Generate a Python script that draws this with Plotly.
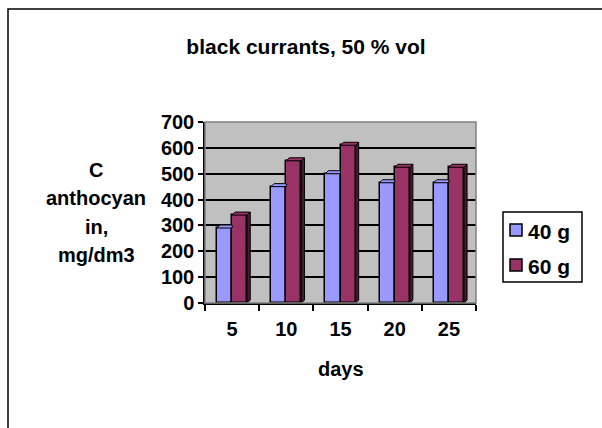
import plotly.graph_objects as go

# ---- data ----
days = ["5", "10", "15", "20", "25"]
series_names = ["40 g", "60 g"]
vals_40 = [290, 450, 500, 465, 465]
vals_60 = [340, 550, 610, 525, 525]
y_ticks = [0, 100, 200, 300, 400, 500, 600, 700]

# ---- styling / geometry ----
W, H = 602, 428
L, R, T, B = 205, 126, 122, 125
FONT = "Arial, Liberation Sans, sans-serif"
BLUE, BLUE_SIDE = "#9999FF", "#5C5C99"
RED, RED_SIDE = "#993366", "#4D1933"
colors = [BLUE, RED]
bw = 0.28          # bar width in category units
dx = 0.055         # 3D depth (x units)
dy = 11.6          # 3D depth (y units)

pw, ph = W - L - R, H - T - B
def px_x(p):  # pixel -> paper x
    return (p - L) / pw
def px_y(p):  # pixel -> paper y
    return (H - B - p) / ph

xs = list(range(len(days)))
fig = go.Figure()

# blue top faces (clipped at red front face)
for i, v in zip(xs, vals_40):
    fig.add_trace(go.Scatter(
        x=[i - bw, i - bw + dx, i, i, i - bw], y=[v, v + dy, v + dy, v, v],
        fill="toself", fillcolor=BLUE, mode="lines",
        line=dict(color="black", width=1), showlegend=False, hoverinfo="skip"))

fig.add_trace(go.Bar(x=xs, y=vals_40, name=series_names[0], width=bw, offset=-bw,
                     marker=dict(color=BLUE, line=dict(color="black", width=1.5)),
                     showlegend=False))
fig.add_trace(go.Bar(x=xs, y=vals_60, name=series_names[1], width=bw, offset=0,
                     marker=dict(color=RED, line=dict(color="black", width=1.5)),
                     showlegend=False))

# red top & side faces
for i, v in zip(xs, vals_60):
    fig.add_trace(go.Scatter(
        x=[i, i + dx, i + bw + dx, i + bw, i], y=[v, v + dy, v + dy, v, v],
        fill="toself", fillcolor=RED, mode="lines",
        line=dict(color="black", width=1), showlegend=False, hoverinfo="skip"))
    fig.add_trace(go.Scatter(
        x=[i + bw, i + bw + dx, i + bw + dx, i + bw, i + bw], y=[0, dy, v + dy, v, 0],
        fill="toself", fillcolor=RED_SIDE, mode="lines",
        line=dict(color="black", width=1), showlegend=False, hoverinfo="skip"))

fig.update_layout(
    width=W, height=H,
    margin=dict(l=L, r=R, t=T, b=B),
    paper_bgcolor="white", plot_bgcolor="#C0C0C0",
    font=dict(family=FONT, color="black", size=20, weight="bold"),
    title=dict(text="black currants, 50 % vol", x=306 / W, xanchor="center",
               y=1 - 47 / H, yanchor="middle",
               font=dict(size=21, family=FONT, weight="bold")),
    showlegend=False,
    bargap=0,
)

fig.update_xaxes(range=[-0.5, len(days) - 0.5], tickmode="array", tickvals=xs,
                 ticktext=days, ticks="", showgrid=False, zeroline=False,
                 showline=True, linecolor="black", linewidth=1.5,
                 ticklabelstandoff=7,
                 tickfont=dict(size=20, family=FONT, weight="bold"),
                 minor=dict(tick0=0.5, dtick=1, ticks="outside", ticklen=6,
                            tickcolor="black", tickwidth=1.5, showgrid=False))
fig.update_yaxes(range=[0, 700], tickmode="array", tickvals=y_ticks,
                 ticks="outside", ticklen=5, tickcolor="black", tickwidth=1.5,
                 showgrid=True, gridcolor="black", gridwidth=1.5, zeroline=False,
                 showline=True, linecolor="black", linewidth=1.5,
                 tickfont=dict(size=20, family=FONT, weight="bold"))

# back wall border
fig.add_shape(type="rect", xref="paper", yref="paper", x0=0, x1=1, y0=0, y1=1,
              line=dict(color="#808080", width=1.5), layer="above")
# outer chart frame
fig.add_shape(type="rect", xref="paper", yref="paper",
              x0=px_x(8), y0=-2, x1=2, y1=px_y(9),
              line=dict(color="black", width=1.5), layer="below")

# legend (Excel style)
fig.add_shape(type="rect", xref="paper", yref="paper",
              x0=px_x(503), x1=px_x(582), y0=px_y(282), y1=px_y(212),
              line=dict(color="black", width=1.5), fillcolor="white", layer="above")
for k, (name, col) in enumerate(zip(series_names, colors)):
    cy = 230 + 35 * k
    fig.add_shape(type="rect", xref="paper", yref="paper",
                  x0=px_x(510), x1=px_x(522), y0=px_y(cy + 6), y1=px_y(cy - 6),
                  line=dict(color="black", width=1.5), fillcolor=col, layer="above")
    fig.add_annotation(text=name, xref="paper", yref="paper", x=px_x(526), y=px_y(cy + 1),
                       xanchor="left", yanchor="middle", showarrow=False,
                       font=dict(size=21, family=FONT, weight="bold"))

# y axis title (each line centred, Excel spacing)
for txt, yy in zip(["C", "anthocyan", "in,", "mg/dm3"], [170, 198, 227, 255]):
    fig.add_annotation(text=txt, xref="paper", yref="paper", x=px_x(96), y=px_y(yy),
                       xanchor="center", yanchor="middle", showarrow=False,
                       font=dict(size=20, family=FONT, weight="bold"))
# x axis title
fig.add_annotation(text="days", xref="paper", yref="paper", x=px_x(341), y=px_y(369),
                   xanchor="center", yanchor="middle", showarrow=False,
                   font=dict(size=20, family=FONT, weight="bold"))

fig.write_html("out.html")
